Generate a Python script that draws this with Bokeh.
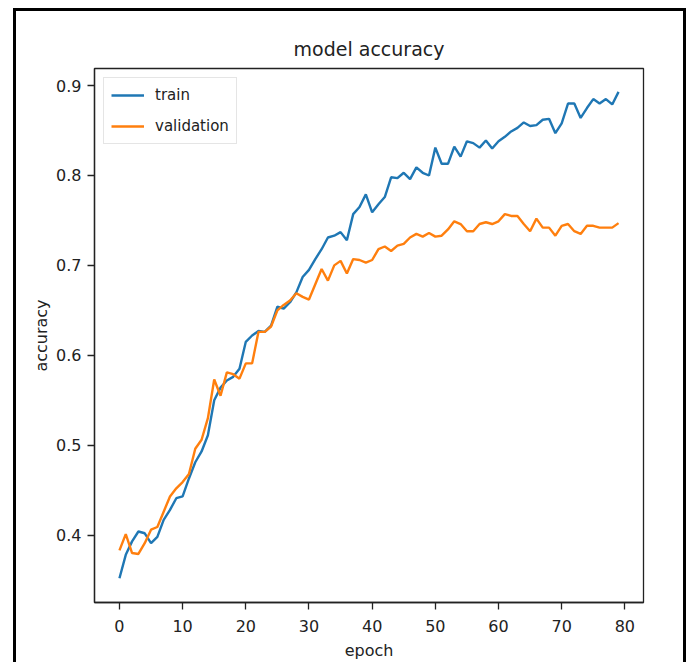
from bokeh.plotting import figure
from bokeh.models import FixedTicker, Legend, LegendItem, Range1d
from bokeh.embed import file_html
from bokeh.resources import INLINE

epochs = list(range(80))
train_acc = [0.352, 0.378, 0.393, 0.404, 0.402, 0.391, 0.398, 0.417, 0.428, 0.441,
             0.443, 0.463, 0.481, 0.493, 0.511, 0.550, 0.564, 0.572, 0.576, 0.585,
             0.615, 0.622, 0.627, 0.626, 0.633, 0.654, 0.652, 0.659, 0.670, 0.687,
             0.695, 0.707, 0.718, 0.731, 0.733, 0.737, 0.728, 0.757, 0.765, 0.779,
             0.759, 0.768, 0.776, 0.798, 0.797, 0.803, 0.796, 0.809, 0.803, 0.800,
             0.831, 0.813, 0.813, 0.832, 0.821, 0.838, 0.836, 0.831, 0.839, 0.830,
             0.838, 0.843, 0.849, 0.853, 0.859, 0.855, 0.856, 0.862, 0.863, 0.847,
             0.858, 0.880, 0.880, 0.864, 0.875, 0.885, 0.880, 0.885, 0.879, 0.893]
val_acc = [0.383, 0.401, 0.380, 0.379, 0.391, 0.406, 0.409, 0.426, 0.443, 0.452,
           0.459, 0.468, 0.496, 0.506, 0.530, 0.573, 0.555, 0.581, 0.579, 0.574,
           0.591, 0.591, 0.626, 0.626, 0.632, 0.650, 0.656, 0.661, 0.669, 0.665,
           0.662, 0.679, 0.696, 0.683, 0.700, 0.705, 0.691, 0.707, 0.706, 0.703,
           0.706, 0.718, 0.721, 0.716, 0.722, 0.724, 0.731, 0.735, 0.732, 0.736,
           0.732, 0.733, 0.740, 0.749, 0.746, 0.738, 0.738, 0.746, 0.748, 0.746,
           0.749, 0.757, 0.755, 0.755, 0.746, 0.738, 0.752, 0.742, 0.742, 0.733,
           0.744, 0.746, 0.738, 0.735, 0.744, 0.744, 0.742, 0.742, 0.742, 0.747]
x_ticks = [0, 10, 20, 30, 40, 50, 60, 70, 80]
y_ticks = [0.4, 0.5, 0.6, 0.7, 0.8, 0.9]

FONT = "DejaVu Sans"

p = figure(width=686, height=662, output_backend="svg", toolbar_location=None,
           title="model accuracy",
           x_range=Range1d(-3.95, 82.95), y_range=Range1d(0.325, 0.919),
           min_border_left=94, min_border_right=43, min_border_top=68, min_border_bottom=59)

r1 = p.line(epochs, train_acc, line_color="#1f77b4", line_width=2.4)
r2 = p.line(epochs, val_acc, line_color="#ff7f0e", line_width=2.4)

p.title.align = "center"
p.title.text_font = FONT
p.title.text_font_size = "19px"
p.title.text_font_style = "normal"
p.title.text_color = "#222222"
p.title.standoff = 17

p.xgrid.visible = False
p.ygrid.visible = False
p.outline_line_color = "#222222"
p.outline_line_width = 1.3
p.outline_line_alpha = 1.0

for ax in (p.xaxis[0], p.yaxis[0]):
    ax.axis_line_color = "#222222"
    ax.axis_line_width = 1.3
    ax.major_tick_line_color = "#222222"
    ax.major_tick_line_width = 1.3
    ax.major_tick_out = 7
    ax.major_tick_in = 0
    ax.minor_tick_line_color = None
    ax.major_label_text_font = FONT
    ax.major_label_text_font_size = "16px"
    ax.major_label_text_color = "#222222"
    ax.axis_label_text_font = FONT
    ax.axis_label_text_font_size = "16px"
    ax.axis_label_text_font_style = "normal"
    ax.axis_label_text_color = "#222222"

p.xaxis[0].ticker = FixedTicker(ticks=x_ticks)
p.yaxis[0].ticker = FixedTicker(ticks=y_ticks)
p.xaxis[0].axis_label = "epoch"
p.yaxis[0].axis_label = "accuracy"
p.xaxis[0].major_label_standoff = 10
p.yaxis[0].major_label_standoff = 6
p.xaxis[0].axis_label_standoff = 6
p.yaxis[0].axis_label_standoff = 2

legend = Legend(items=[LegendItem(label="train", renderers=[r1]),
                       LegendItem(label="validation", renderers=[r2])],
                location="top_left")
legend.margin = 9
legend.padding = 7
legend.spacing = 11
legend.glyph_width = 33
legend.glyph_height = 20
legend.label_height = 20
legend.label_standoff = 11
legend.label_text_font = FONT
legend.label_text_font_size = "15px"
legend.label_text_color = "#222222"
legend.border_line_color = "#cccccc"
legend.border_line_width = 1
legend.background_fill_alpha = 0.8
p.add_layout(legend)

# outer black frame of the picture (drawn with CSS, does not affect layout)
p.stylesheets = [":host::after { content: ''; position: absolute; left: 13px; top: 8px; "
                 "width: 673px; bottom: 0px; border: 3px solid black; border-bottom: none; "
                 "box-sizing: border-box; pointer-events: none; }"]

open("out.html", "w").write(file_html(p, INLINE))
